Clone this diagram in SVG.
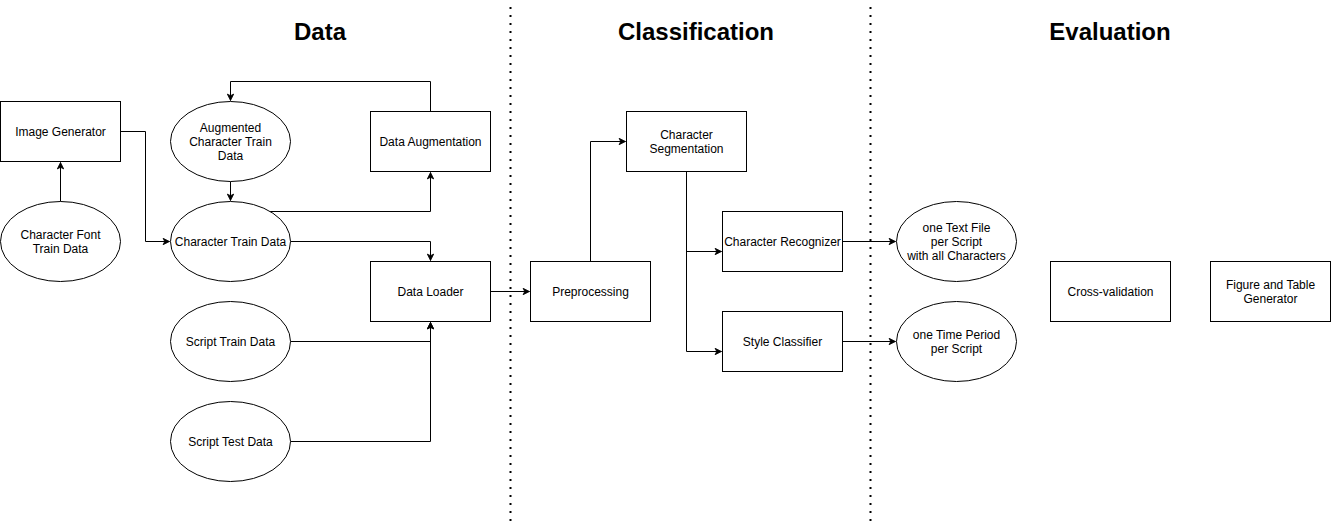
<svg xmlns="http://www.w3.org/2000/svg" width="1331" height="523" viewBox="0 0 1331 523">
<style>
.n{fill:#fff;stroke:#000;stroke-width:1}
.t{font-family:"Liberation Sans",Arial,sans-serif;font-size:12px;fill:#000;text-anchor:middle}
.h{font-family:"Liberation Sans",Arial,sans-serif;font-size:24px;font-weight:bold;fill:#000;text-anchor:middle}
.e{fill:none;stroke:#000;stroke-width:1}
.d{fill:none;stroke:#000;stroke-width:2;stroke-dasharray:2 6}
</style>
<defs>
<marker id="a" viewBox="0 0 10 10" refX="9" refY="5" markerWidth="8" markerHeight="8" markerUnits="userSpaceOnUse" orient="auto">
<path d="M1,1 L9,5 L1,9 L3,5 Z" fill="#000" stroke="#000" stroke-width="1"/>
</marker>
</defs>
<rect width="1331" height="523" fill="#fff"/>
<g id="separators">
<line class="d" x1="510.5" y1="7" x2="510.5" y2="523"/>
<line class="d" x1="870.5" y1="7" x2="870.5" y2="523"/>
</g>
<g id="titles">
<text class="h" x="320" y="40">Data</text>
<text class="h" x="696" y="40">Classification</text>
<text class="h" x="1110" y="40">Evaluation</text>
</g>
<g id="connectors">
<path class="e" d="M60.5,201.5 V162.5" marker-end="url(#a)"/>
<path class="e" d="M120.5,131.5 H145.5 V241.5 H169.5" marker-end="url(#a)"/>
<path class="e" d="M230.5,181.5 V200.5" marker-end="url(#a)"/>
<path class="e" d="M430.5,111.5 V81.5 H230.5 V100.5" marker-end="url(#a)"/>
<path class="e" d="M270.2,211.5 H430.5 V172.5" marker-end="url(#a)"/>
<path class="e" d="M290.5,241.5 H430.5 V260.5" marker-end="url(#a)"/>
<path class="e" d="M290.5,341.5 H430.5 V322.5" marker-end="url(#a)"/>
<path class="e" d="M290.5,441.5 H430.5 V322.5" marker-end="url(#a)"/>
<path class="e" d="M490.5,291.5 H529.5" marker-end="url(#a)"/>
<path class="e" d="M590.5,261.5 V141.5 H625.5" marker-end="url(#a)"/>
<path class="e" d="M686.5,171.5 V251.5 H721.5" marker-end="url(#a)"/>
<path class="e" d="M686.5,171.5 V351.5 H721.5" marker-end="url(#a)"/>
<path class="e" d="M842.5,241.5 H895.5" marker-end="url(#a)"/>
<path class="e" d="M842.5,341.5 H895.5" marker-end="url(#a)"/>
</g>
<g id="image-generator"><rect class="n" x="0.5" y="101.5" width="120" height="60"/><text class="t" x="60.5" y="135.5">Image Generator</text></g>
<g id="char-font-train-data"><ellipse class="n" cx="60.5" cy="241.5" rx="60" ry="40"/><text class="t" x="60.5" y="238.5">Character Font</text><text class="t" x="60.5" y="252.5">Train Data</text></g>
<g id="aug-char-train-data"><ellipse class="n" cx="230.5" cy="141.5" rx="60" ry="40"/><text class="t" x="230.5" y="131.5">Augmented</text><text class="t" x="230.5" y="145.5">Character Train</text><text class="t" x="230.5" y="159.5">Data</text></g>
<g id="char-train-data"><ellipse class="n" cx="230.5" cy="241.5" rx="60" ry="40"/><text class="t" x="230.5" y="245.5">Character Train Data</text></g>
<g id="script-train-data"><ellipse class="n" cx="230.5" cy="341.5" rx="60" ry="40"/><text class="t" x="230.5" y="345.5">Script Train Data</text></g>
<g id="script-test-data"><ellipse class="n" cx="230.5" cy="441.5" rx="60" ry="40"/><text class="t" x="230.5" y="445.5">Script Test Data</text></g>
<g id="data-augmentation"><rect class="n" x="370.5" y="111.5" width="120" height="60"/><text class="t" x="430.5" y="145.5">Data Augmentation</text></g>
<g id="data-loader"><rect class="n" x="370.5" y="261.5" width="120" height="60"/><text class="t" x="430.5" y="295.5">Data Loader</text></g>
<g id="preprocessing"><rect class="n" x="530.5" y="261.5" width="120" height="60"/><text class="t" x="590.5" y="295.5">Preprocessing</text></g>
<g id="char-segmentation"><rect class="n" x="626.5" y="111.5" width="120" height="60"/><text class="t" x="686.5" y="138.5">Character</text><text class="t" x="686.5" y="152.5">Segmentation</text></g>
<g id="char-recognizer"><rect class="n" x="722.5" y="211.5" width="120" height="60"/><text class="t" x="782.5" y="245.5">Character Recognizer</text></g>
<g id="style-classifier"><rect class="n" x="722.5" y="311.5" width="120" height="60"/><text class="t" x="782.5" y="345.5">Style Classifier</text></g>
<g id="text-file"><ellipse class="n" cx="956.5" cy="241.5" rx="60" ry="40"/><text class="t" x="956.5" y="231.5">one Text File</text><text class="t" x="956.5" y="245.5">per Script</text><text class="t" x="956.5" y="259.5">with all Characters</text></g>
<g id="time-period"><ellipse class="n" cx="956.5" cy="341.5" rx="60" ry="40"/><text class="t" x="956.5" y="338.5">one Time Period</text><text class="t" x="956.5" y="352.5">per Script</text></g>
<g id="cross-validation"><rect class="n" x="1050.5" y="261.5" width="120" height="60"/><text class="t" x="1110.5" y="295.5">Cross-validation</text></g>
<g id="figure-table-generator"><rect class="n" x="1210.5" y="261.5" width="120" height="60"/><text class="t" x="1270.5" y="288.5">Figure and Table</text><text class="t" x="1270.5" y="302.5">Generator</text></g>
</svg>
